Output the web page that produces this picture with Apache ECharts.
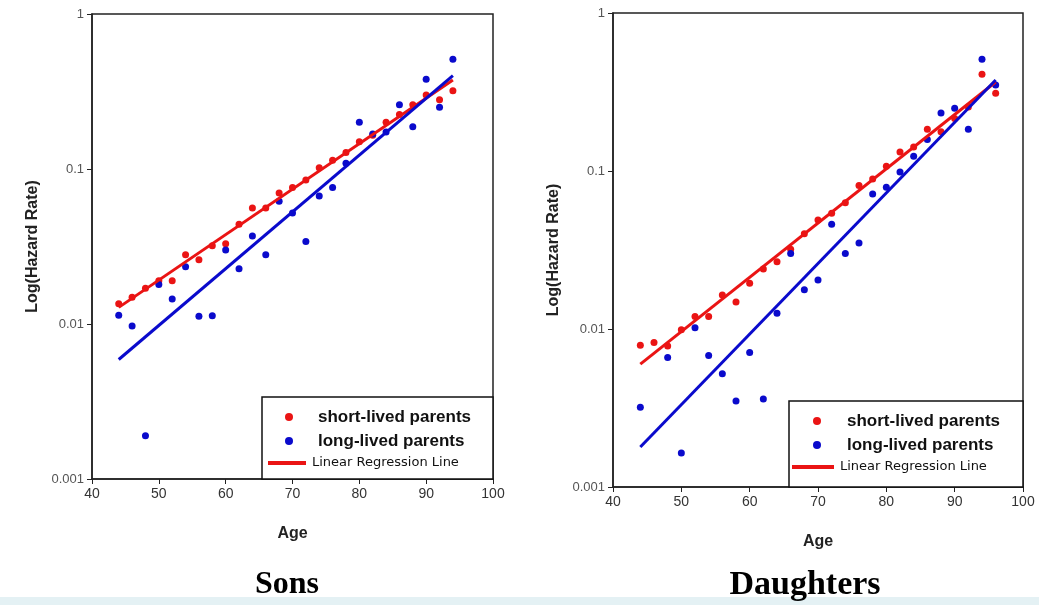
<!DOCTYPE html>
<html>
<head>
<meta charset="utf-8">
<script src="https://cdn.jsdelivr.net/npm/echarts@6/dist/echarts.min.js"></script>
<style>html,body{margin:0;padding:0;background:#fff}#c{width:1039px;height:605px}</style>
</head>
<body>
<div id="c"></div>
<script>
// ---- data ----
const sonsAges = [44,46,48,50,52,54,56,58,60,62,64,66,68,70,72,74,76,78,80,82,84,86,88,90,92,94];
const sonsShort = [0.0135,0.0149,0.017,0.019,0.019,0.028,0.026,0.032,0.033,0.044,0.056,0.056,0.07,0.076,0.085,0.102,0.114,0.128,0.15,0.165,0.20,0.225,0.26,0.30,0.28,0.32];
const sonsLong  = [0.0114,0.0097,0.0019,0.018,0.0145,0.0234,0.0112,0.0113,0.030,0.0227,0.037,0.028,0.062,0.052,0.034,0.067,0.076,0.109,0.20,0.168,0.173,0.26,0.187,0.38,0.25,0.51];
const sonsShortFit = [[44,0.0128],[94,0.375]];
const sonsLongFit  = [[44,0.0059],[94,0.40]];

const dauAges = [44,46,48,50,52,54,56,58,60,62,64,66,68,70,72,74,76,78,80,82,84,86,88,90,92,94,96];
const dauShort = [0.0079,0.0082,0.0078,0.0099,0.012,0.012,0.0164,0.0148,0.0195,0.024,0.0266,0.032,0.040,0.049,0.054,0.063,0.081,0.089,0.107,0.132,0.142,0.184,0.177,0.215,0.254,0.41,0.31];
const dauLong  = [0.0032,null,0.0066,0.00164,0.0102,0.0068,0.0052,0.0035,0.0071,0.0036,0.0126,0.030,0.0177,0.0204,0.046,0.030,0.035,0.0715,0.079,0.0986,0.124,0.158,0.233,0.25,0.184,0.51,0.35];
const dauShortFit = [[44,0.006],[96,0.366]];
const dauLongFit  = [[44,0.00179],[96,0.377]];

const xTicks = [40,50,60,70,80,90,100];
const yTickLabels = {'0.001':'0.001','0.01':'0.01','0.1':'0.1','1':'1'};
const legendLabels = ['short-lived parents','long-lived parents','Linear Regression Line'];
const panelTitles = ['Sons','Daughters'];

// ---- styles ----
const RED = '#ea1414', BLUE = '#0a0acc';
const pairs = (xs, ys) => xs.map((x,i)=>[x, ys[i]]).filter(p => p[1] != null);

function xAx(gi){
  return {
    gridIndex: gi, type:'value', min:xTicks[0], max:xTicks[xTicks.length-1], interval:10,
    name:'Age', nameLocation:'middle', nameGap: 47,
    nameTextStyle:{fontFamily:'Liberation Sans, Arial', fontWeight:'bold', fontSize:16, color:'#222'},
    axisLine:{show:true, lineStyle:{color:'#222', width:1.5}},
    axisTick:{show:true, inside:false, length:5, lineStyle:{color:'#222'}},
    axisLabel:{fontFamily:'Liberation Sans Narrow, Arial Narrow, Liberation Sans', fontSize:14, color:'#333', margin:8},
    splitLine:{show:false}
  };
}
function yAx(gi){
  return {
    gridIndex: gi, type:'log', logBase:10, min:0.001, max:1,
    name:'Log(Hazard Rate)', nameLocation:'middle', nameGap: 51,
    nameTextStyle:{fontFamily:'Liberation Sans, Arial', fontWeight:'bold', fontSize:16, color:'#222'},
    axisLine:{show:true, lineStyle:{color:'#222', width:1.5}},
    axisTick:{show:true, inside:false, length:5, lineStyle:{color:'#222'}},
    axisLabel:{fontFamily:'Liberation Sans, Arial', fontSize:13, color:'#555', margin:8,
      formatter: v => yTickLabels[String(+Number(v).toPrecision(1))] || ''},
    minorTick:{show:false}, splitLine:{show:false}
  };
}
function scatter(name, gi, data, color){
  return {name, type:'scatter', xAxisIndex:gi, yAxisIndex:gi, data, symbolSize:7,
    itemStyle:{color, opacity:1}, z:3};
}
function fit(name, gi, data, color){
  return {name, type:'line', xAxisIndex:gi, yAxisIndex:gi, data, symbol:'none',
    lineStyle:{color, width:3}, z:4, silent:true};
}

function legendBox(x0, y0, w, h, dotX, txtX, lineX0, lineX1){
  return [
    {type:'rect', shape:{x:x0, y:y0, width:w, height:h}, style:{fill:'#fff', stroke:'#111', lineWidth:1.5}, z:10},
    {type:'circle', shape:{cx:dotX, cy:y0+20, r:4}, style:{fill:RED}, z:11},
    {type:'text', x:txtX, y:y0+20, style:{text:legendLabels[0], fontFamily:'Liberation Sans, Arial', fontWeight:'bold', fontSize:17, fill:'#111', textVerticalAlign:'middle'}, z:11},
    {type:'circle', shape:{cx:dotX, cy:y0+44, r:4}, style:{fill:BLUE}, z:11},
    {type:'text', x:txtX, y:y0+44, style:{text:legendLabels[1], fontFamily:'Liberation Sans, Arial', fontWeight:'bold', fontSize:17, fill:'#111', textVerticalAlign:'middle'}, z:11},
    {type:'line', shape:{x1:lineX0, y1:y0+66, x2:lineX1, y2:y0+66}, style:{stroke:RED, lineWidth:4}, z:11},
    {type:'text', x:lineX1+6, y:y0+66, style:{text:legendLabels[2], fontFamily:'DejaVu Sans', fontSize:13, fill:'#111', textVerticalAlign:'middle'}, z:11}
  ];
}

const chart = echarts.init(document.getElementById('c'), null, {renderer:'canvas'});
chart.setOption({
  animation:false,
  backgroundColor:'#fff',
  grid:[
    {left:92, top:14, width:401, height:465, show:true, borderColor:'#222', borderWidth:1.5, backgroundColor:'transparent'},
    {left:613, top:13, width:410, height:474, show:true, borderColor:'#222', borderWidth:1.5, backgroundColor:'transparent'}
  ],
  xAxis:[xAx(0), xAx(1)],
  yAxis:[yAx(0), yAx(1)],
  series:[
    fit(legendLabels[2], 0, sonsShortFit, RED),
    fit('long fit sons', 0, sonsLongFit, BLUE),
    scatter(legendLabels[0], 0, pairs(sonsAges, sonsShort), RED),
    scatter(legendLabels[1], 0, pairs(sonsAges, sonsLong), BLUE),
    fit(legendLabels[2], 1, dauShortFit, RED),
    fit('long fit daughters', 1, dauLongFit, BLUE),
    scatter(legendLabels[0], 1, pairs(dauAges, dauShort), RED),
    scatter(legendLabels[1], 1, pairs(dauAges, dauLong), BLUE)
  ],
  graphic:[
    ...legendBox(262, 397, 231, 82, 289, 318, 268, 306),
    ...legendBox(789, 401, 234, 86, 817, 847, 792, 834),
    {type:'text', x:287, y:585, style:{text:panelTitles[0], fontFamily:'Liberation Serif, Times New Roman', fontWeight:'bold', fontSize:32, fill:'#000', textAlign:'center', textVerticalAlign:'middle'}},
    {type:'text', x:805, y:585, style:{text:panelTitles[1], fontFamily:'Liberation Serif, Times New Roman', fontWeight:'bold', fontSize:34, fill:'#000', textAlign:'center', textVerticalAlign:'middle'}},
    {type:'rect', shape:{x:0, y:597, width:1039, height:8}, style:{fill:'#e4f1f4'}, z:-1}
  ]
});
</script>
</body>
</html>
